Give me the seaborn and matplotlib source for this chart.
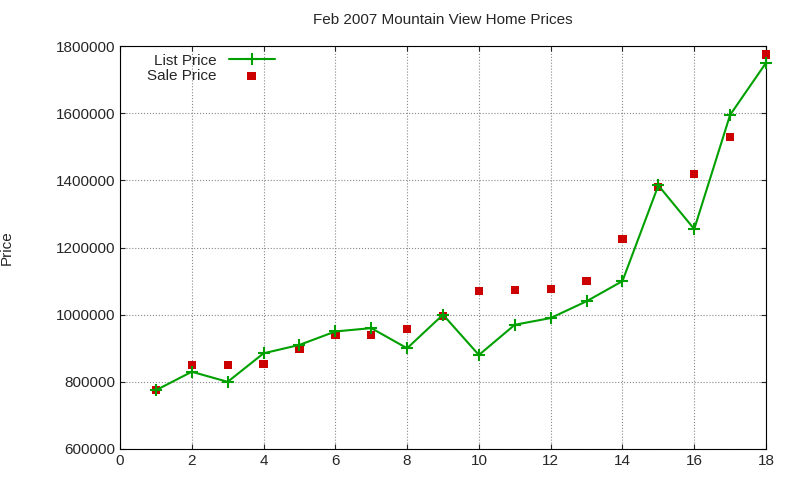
import matplotlib
matplotlib.use('Agg')
import matplotlib.pyplot as plt
import seaborn as sns
import pandas as pd

months = list(range(1, 19))
list_price = [775000, 830000, 800000, 885000, 910000, 950000, 960000, 900000, 1000000,
              880000, 970000, 990000, 1040000, 1100000, 1385000, 1255000, 1595000, 1750000]
sale_price = [775000, 850000, 850000, 853000, 898000, 940000, 940000, 957000, 996000,
              1070000, 1073000, 1076000, 1100000, 1225000, 1380000, 1420000, 1530000, 1775000]

df = pd.DataFrame({'x': months, 'list': list_price, 'sale': sale_price})

sns.set_style('ticks')
plt.rcParams['font.family'] = ['Liberation Sans', 'DejaVu Sans']

fig = plt.figure(figsize=(8, 4.8), dpi=100)
ax = fig.add_axes([0.15, 0.0646, 0.8075, 0.8394])

sns.lineplot(data=df, x='x', y='list', ax=ax, color='#00a000', marker='+', markersize=8,
             markeredgewidth=1.5, markeredgecolor='#00a000', linewidth=1.5,
             label='List Price', clip_on=False, zorder=4)
sns.scatterplot(data=df, x='x', y='sale', ax=ax, color='#cc0000', marker='s', s=36,
                edgecolor='none', label='Sale Price', zorder=3, clip_on=False)

ax.set_xlim(0, 18)
ax.set_ylim(600000, 1800000)
ax.set_xticks(range(0, 19, 2))
ax.set_yticks(range(600000, 1800001, 200000))
ax.ticklabel_format(axis='y', style='plain', useOffset=False)
ax.grid(True, linestyle=':', color='#888888', linewidth=0.8)
ax.tick_params(direction='in', labelsize=11, top=True, right=True)
for s in ax.spines.values():
    s.set_color('black')
ax.set_xlabel('')
ax.set_ylabel('Price', fontsize=11, labelpad=30)
ax.set_title('Feb 2007 Mountain View Home Prices', fontsize=11, pad=16)
ax.legend(loc='upper left', markerfirst=False, frameon=False, fontsize=11,
          handlelength=3, borderaxespad=0.1, labelspacing=0.1, bbox_to_anchor=(0.03, 1.0))

fig.savefig('out.png', dpi=100)
